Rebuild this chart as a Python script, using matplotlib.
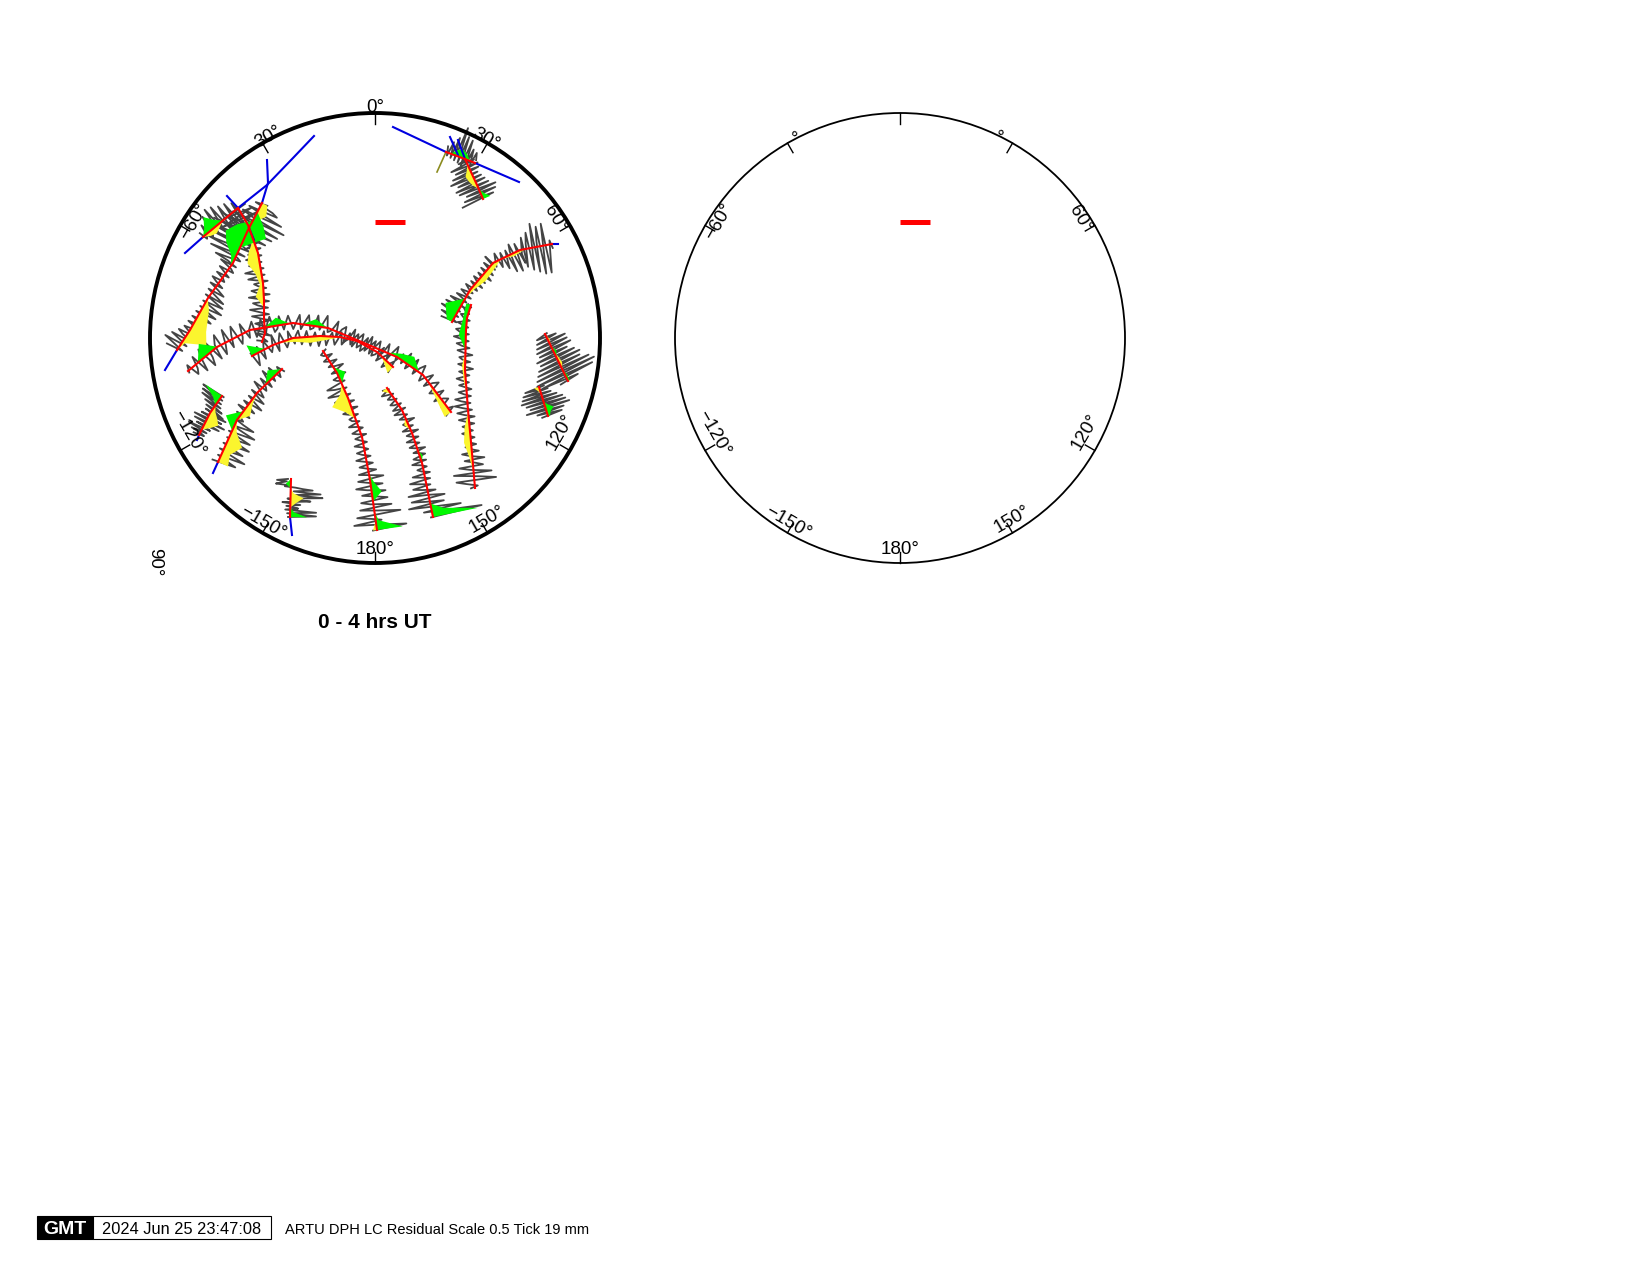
import numpy as np
import matplotlib
matplotlib.use("Agg")
import matplotlib.pyplot as plt
from matplotlib.patches import Circle, Rectangle

plt.rcParams['font.family'] = ['Liberation Sans', 'DejaVu Sans']

# track knots as (east, north) in degrees of zenith distance
track_a = [(30.4, -29.6), (19.2, -14.8), (8.8, -7.6), (-7.2, -0.8), (-18.8, 4), (-32.8, 6), (-50, 3.2), (-63.2, -3.6), (-74.8, -13.2)]
track_b = [(7.2, -11.6), (0.8, -5.6), (-7.2, -1.2), (-14, 0.4), (-22, 0.8), (-32.8, 0), (-40.8, -2.8), (-49.2, -7.2)]
track_c = [(-45.2, -1.6), (-44, 2), (-44.4, 7.2), (-44.4, 15.2), (-44.8, 22), (-46.8, 34), (-50.8, 45.2), (-54.8, 52)]
track_d = [(-45.2, 54), (-50.8, 43.2), (-56.8, 30), (-66.8, 16), (-74, 3.2), (-79.2, -4.8)]
track_e = [(-54.8, 52), (-68.8, 40.4)]
track_f = [(70.8, 37.6), (58, 35.2), (47.2, 30), (38, 19.2), (30.8, 6.4)]
track_g = [(40, -60), (38.8, -46), (37.2, -28.8), (36, -12.8), (36.4, 3.2), (36.8, 8), (38.4, 13.2)]
track_h = [(0.8, -76.8), (-2, -56.8), (-5.2, -39.6), (-10.8, -24), (-15.2, -14), (-20.8, -5.2)]
track_i = [(23.2, -71.6), (18.8, -50), (14.8, -38), (10.8, -28.8), (4.8, -20)]
track_j = [(-37.2, -12.4), (-47.2, -22), (-55.2, -32.8), (-62.8, -49.6)]
track_k = [(-61.2, -23.2), (-66, -30), (-70.4, -38.8)]
track_l = [(-33.6, -56.4), (-34, -71.6)]
track_m = [(68, 1.6), (77.2, -17.2)]
track_n = [(65.6, -19.6), (69.2, -31.2)]
track_o = [(40, 70), (36, 71.6), (28.4, 74.4)]
track_p = [(43.2, 55.6), (40.8, 61.2), (36, 71.6)]

# residuals along each track, evenly spaced
res_a = [6, -5, 3, 5, -6, -2, 7, -7, 2, 6, -8, -3, 6, -8, 1, 7, -9, -4, 5, -10, -2, 5, -11, 3, -6, 4, -10, -3, 6, -9, 2, 7, -8, -1, 8, -9, 4, 9, -8, -2, 8, -9, 3, 7, -8, -4, 5, -10, 1, 4, -12, -5, 3, -11, 2, 4, -10, -3, 5, -9, 1, 6, -8, -2, 5, -9, 3, 6, -10, -4, 7, -9, 2, 8, -8, -1, 7, -10, 3, 9, -12, -4, 8, -13, 2, 11, -12, -3, 12, -13, 5, 13, -10, -2, 12, -8, 4, 9, -5, 2]
res_b = [7, -5, 2, 8, -7, -1, 7, -8, 3, 6, -9, -2, 5, -8, 1, 6, -7, -3, 5, -6, 2, 7, -5, 3, 8, -4, 1, 9, -5, 4, 10, -4, 2, 9, -6, 1, 7, -7, -2, 6, -8, 3, 7, -9, -3, 8, -10, 2, 6, -8, -2, 9, -6, 4, 12, -3]
res_c = [5, -5, 1, 8, -6, 2, 10, -5, 4, 9, -6, 3, 12, -5, 5, 14, -4, 6, 11, -5, 4, 15, -6, 7, 12, -3, 5, 9, -5, 6, 14, -3, 8, 16, -3, 4, 11, -2, 6, 13, -3, 5, 10, -4, 2, 9, -5, 4, 12, -8, 3, 18, -6, -2, 22, -10, 4, 20, -14, 5, 24, -12, 3, 18, -8]
res_d = [6, -6, 14, 20, -10, 5, 28, -14, -4, 34, -22, 6, 30, -30, -8, 26, -36, 4, 22, -40, -12, 16, -38, 3, 10, -34, -10, 8, -28, 2, 6, -20, -6, 5, -12, 2, 6, -9, -2, 5, -8, 1, 4, -9, -3, 6, -7, 4, 12, -5, 6, 16, -4, 8, 18, -3, 9, 20, -3, 7, 17, -4, 8, 15, -5, 4, 10, -6, 2, 8, -7, -2, 6, -10, -4, 8, -14, -3, 6, -18, -6, 5, -12]
res_e = [20, -8, 6, 25, -12, 4, 22, -14, -3, 15, -18, -5, 10, -20, -4, 8, -16, 2, 6, -10, 1, 4, -5]
res_f = [4, -4, 12, 28, -22, 3, 28, -20, -6, 25, -24, 2, 22, -16, -5, 18, -12, 4, 14, -8, 6, 20, -10, -3, 18, -6, 3, 12, -6, 2, 8, -8, -2, 5, -10, 1, 6, -7, 2, 8, -6, 3, 10, -5, 1, 7, -6, -1, 8, -5, 2, 6, -7, -2, 4, -8, -3, 5, -10, -2, 3, -14, -4, 3, -16, -6, 2, -18, -5, 3, -15, -3, 4, -12]
res_g = [4, -3, 8, 18, -22, -4, 20, -18, 3, 14, -10, -2, 8, -12, 2, 10, -7, 1, 6, -5, 2, 5, -4, 3, 8, -3, 2, 7, -5, 3, 10, -6, 4, 11, -4, 5, 13, -3, 6, 12, -4, 3, 8, -5, 1, 7, -3, 4, 9, -4, 2, 6, -8, 1, 7, -5, 3, 6, -7, 2, 8, -4, 4, 9, -3, 5, 12, -3, 6, 10, -2, 4, 9, -3, 3, 7, -1, 4, 6, -1, 3]
res_h = [4, -30, -6, 22, -6, 5, 18, -26, -4, 14, -18, 3, 12, -15, -3, 10, -14, 4, 15, -12, 2, 12, -14, -2, 10, -8, 1, 8, -6, 2, 10, -5, 3, 8, -4, 1, 9, -4, 2, 7, -5, 3, 8, -4, 1, 9, -3, 4, 6, -4, 5, 10, -6, 4, 8, -5, 6, 14, -4, 8, 18, -3, 9, 16, -4, 3, 6, -8, -3, 5, -10, -2, 4, -7, 1, 5, -6, 2, 4, -3]
res_i = [2, -50, -20, 8, -30, -3, 22, -14, 4, 18, -16, -2, 20, -8, 5, 14, -4, 6, 16, -5, 3, 12, -6, 2, 6, -4, 1, 10, -5, 3, 7, -6, -1, 5, -8, 2, 7, -4, 1, 8, -5, 2, 6, -7, 1, 8, -4, 3, 5, -8, 1, 6, -3, 2, 9, -4, 3, 8, -3, 4, 7, -2, 3, 6, -2, 4, 9, -1, 5]
res_j = [3, -5, 1, 5, -10, -2, 4, -12, -3, 6, -8, 2, 5, -10, 1, 8, -6, 3, 12, -5, 4, 14, -6, 2, 10, -8, 3, 9, -5, 1, 6, -3, 8, 20, -2, 10, 24, -3, 9, 22, -2, 12, 24, -3, 8, 20, -4, 10, 25, -3, 7, 18, -6]
res_k = [2, -22, -12, 3, -20, -10, 4, -18, -5, 6, -12, 2, 10, -8, 4, 14, -6, 5, 18, -8, 3, 15, -14, 2, 20, -12, 4, 16, -8, 2, 8, -15, -3, 6, -10, 1, 5, -6]
res_l = [-3, -14, -4, -10, -15, -3, -6, 5, 12, 22, 3, 14, 30, 4, 18, 32, -3, 8, 20, -8, 2, 10, -4, 3, 8, -5, 10, 26, -3, 12, 26, -2]
res_m = [2, -10, 10, -12, 18, -14, 18, -16, 20, -15, 14, -20, 20, -18, 24, -22, 22, -25, 30, -28, 34, -30, 30, -26, 12, -8]
res_n = [5, -15, 8, -18, 10, -20, 15, -22, 20, -18, 22, -15, 25, -20, 18, -10, 15, -6]
res_o = [-3, -10, 3, -12, 4, -20, 8, -22, 6, -30, 5, -18, 4, -12, 3, -6]
res_p = [22, -12, 18, -16, 14, -18, 20, -12, 22, -10, 18, -8, 24, -6, 20, -9, 15, -10, 18, -8, 8, -8]

# smoothed residuals that get filled, evenly spaced along the track
yellow_a = [8, 0, 0, 0, 0, 0, 0, 0, 0]
green_a = [0, 0, 0, 0, 0, -10, -5, 0, 0, 0, 0, 0, 0, -7, 0, 0, -8, 0, 0, 0, 0, 0, -14, 0, 0]
yellow_b = [8, 0, 0, 0, 0, 4, 6, 4, 0, 0, 0]
green_b = [0, 0, 0, 0, 0, 0, 0, 0, 0, 0, -12]
yellow_c = [0, 0, 0, 0, 8, 3, 6, 12, 9, 0, 0, 0, 0]
yellow_d = [6, 10, 3, 0, 0, 0, 0, 0, 0, 0, 0, 0, 7, 11, 15, 22, 3, 0]
green_d1 = [0, 0, 12, 20, 10, 0, 0, 0, 0, 0, 0, 0, 0, 0, 0, 0, 0, 0]
green_d2 = [0, 0, 0, -12, -20, -15, -5, 0, 0, 0, 0, 0, 0, 0, 0, 0, 0, 0]
yellow_e = [0, 0, 0, 0, 3, 6, 4, 0]
green_e = [0, 0, 0, 0, -6, -15, -6, 0]
yellow_f = [0, 0, 0, 3, 0, 5, 6, 3, 0, 0, 0]
green_f = [0, 0, 0, 0, 0, 0, 0, 0, 0, -15, -6]
yellow_g = [0, 0, 3, 7, 5, 0, 0, 2, 3, 0, 0, 0, 0]
green_g = [0, 0, 0, 0, 0, 0, 0, 0, 0, 0, 7, 4, 5]
yellow_h = [4, 0, 0, 0, 0, 0, 0, 0, 0, 0, 0, 0, 0, 7, 18, 6, 0, 0, 0, 0, 0]
green_h = [-26, -3, 0, 0, -10, -4, 0, 0, 0, 0, 0, 0, 0, 0, 0, 0, 0, -8, 0, 0, 0]
yellow_i = [0, 0, 0, 0, 0, 0, 0, 0, 0, 0, 0, 0, 0, 0, 4, 0, 0, 0, 0, 0, 6]
green_i = [-46, -12, 0, 0, 0, 0, 0, 0, 0, -3, 0, 0, 0, 0, 0, 0, 0, 0, 0, 0, 0]
yellow_j = [0, 0, 0, 0, 3, 8, 0, 5, 16, 8, 11]
green_j = [0, -9, 0, 0, 0, 0, -12, 0, 0, 0, 0]
yellow_k = [0, 0, 0, 4, 9, 13, 7, 0, 0]
green_k = [-20, -7, 0, 0, 0, 0, 0, 0, 0]
yellow_l = [0, 0, 0, 3, 13, 6, 0, 0, 0]
green_l = [0, -5, 0, 0, 0, 0, 0, 4, 17]
yellow_m = [0, 2, 0, 0, 2, 3, 0, 0, 0]
green_m = [0, 0, 0, 3, 0, 0, 0, 2, 2]
yellow_n = [-5, -2, 0, 0, 0, 0, 0, 0, 0]
green_n = [0, 0, 0, 0, 0, 3, 8, 4, 2]
green_o = [0, 0, -5, -8, -6, 0, 0]
yellow_p = [0, 0, 0, 4, 6, 7, 3, 0, 0]
green_p = [-8, -3, 0, 0, 0, 0, 0, 0, 0]

# track extensions drawn in blue
blue_1 = [(-84, -12.8), (-79.2, -4.8)]
blue_2 = [(-43.2, 71.2), (-42.8, 62), (-45.2, 54)]
blue_3 = [(-76, 34), (-68.8, 40.4)]
blue_4 = [(-54.8, 52), (-43.2, 61.2), (-32.8, 72), (-24.4, 80.8)]
blue_5 = [(-59.2, 56.8), (-54.8, 52)]
blue_6 = [(-50.4, 44), (-48.4, 39.2)]
blue_7 = [(70.8, 37.6), (73.2, 37.6)]
blue_8 = [(-64.8, -54), (-62.8, -49.6)]
blue_9 = [(-71.2, -40.8), (-70.4, -38.8)]
blue_10 = [(-34, -71.6), (-33.2, -78.8)]
blue_11 = [(7.2, 84.4), (28.4, 74.4)]
blue_12 = [(40, 70), (57.6, 62.4)]
blue_13 = [(33.2, 79.2), (36, 71.6)]
blue_14 = [(30, 80.4), (33.2, 73.2)]
stray_spike = [(24.8, 66.4), (28.4, 74.4)]

tick_az = [0, 30, 60, 120, 150, 180, 210, 240, 300, 330]
label_text = ["60°", "120°", "150°", "180°", "\u2212150°", "\u2212120°", "\u221260°"]
label_e = [72, 74, 45, 0, -45, -74.5, -72.5]
label_n = [47.4, -37.6, -72.5, -84.4, -74, -38, 46.4]
label_rot = [-60, 60, 30, 0, -30, -60, 60]

scale_bar = [(0, 46.4), (12, 46.4)]
RES_SCALE = 0.4

tracks = [track_a, track_b, track_c, track_d, track_e, track_f, track_g, track_h,
          track_i, track_j, track_k, track_l, track_m, track_n, track_o, track_p]
residuals = [res_a, res_b, res_c, res_d, res_e, res_f, res_g, res_h,
             res_i, res_j, res_k, res_l, res_m, res_n, res_o, res_p]
yellow_fills = [(track_a, yellow_a), (track_b, yellow_b), (track_c, yellow_c), (track_d, yellow_d),
                (track_e, yellow_e), (track_f, yellow_f), (track_g, yellow_g), (track_h, yellow_h),
                (track_i, yellow_i), (track_j, yellow_j), (track_k, yellow_k), (track_l, yellow_l),
                (track_m, yellow_m), (track_n, yellow_n), (track_p, yellow_p)]
green_fills = [(track_a, green_a), (track_b, green_b), (track_d, green_d1), (track_d, green_d2),
               (track_e, green_e), (track_f, green_f), (track_g, green_g), (track_h, green_h),
               (track_i, green_i), (track_j, green_j), (track_k, green_k), (track_l, green_l),
               (track_m, green_m), (track_n, green_n), (track_o, green_o), (track_p, green_p)]
blues = [blue_1, blue_2, blue_3, blue_4, blue_5, blue_6, blue_7, blue_8,
         blue_9, blue_10, blue_11, blue_12, blue_13, blue_14]


def offset_track(track, values):
    """Base points of a track and the points moved sideways by values (left of travel)."""
    pts = np.array(track, dtype=float)
    seg = np.diff(pts, axis=0)
    dist = np.concatenate([[0], np.cumsum(np.hypot(seg[:, 0], seg[:, 1]))])
    where = np.linspace(0, dist[-1], len(values))
    x = np.interp(where, dist, pts[:, 0])
    y = np.interp(where, dist, pts[:, 1])
    idx = np.clip(np.searchsorted(dist, where, side='right') - 1, 0, len(seg) - 1)
    tx = seg[idx, 0] / np.hypot(seg[idx, 0], seg[idx, 1])
    ty = seg[idx, 1] / np.hypot(seg[idx, 0], seg[idx, 1])
    v = np.array(values, dtype=float) * RES_SCALE
    return x, y, x - ty * v, y + tx * v


def skyplot(ax, edge_width):
    ax.set_xlim(-90, 90)
    ax.set_ylim(-90, 90)
    ax.set_aspect('equal')
    ax.axis('off')
    ax.add_patch(Circle((0, 0), 90, fill=False, ec='black', lw=edge_width, clip_on=False, zorder=5))
    for az in tick_az:
        s, c = np.sin(np.radians(az)), np.cos(np.radians(az))
        ax.plot([85.6 * s, 90 * s], [85.6 * c, 90 * c], color='black', lw=1.0, clip_on=False, zorder=5)
    for txt, e, n, rot in zip(label_text, label_e, label_n, label_rot):
        ax.text(e, n, txt, fontsize=13.5, rotation=rot, rotation_mode='anchor',
                ha='center', va='center', clip_on=False, zorder=6)
    bar = np.array(scale_bar)
    ax.plot(bar[:, 0], bar[:, 1], color='red', lw=3.6, solid_capstyle='butt', zorder=5)


fig = plt.figure(figsize=(16.5, 12.75), dpi=100)
ax1 = fig.add_axes([150 / 1650, (1275 - 563) / 1275, 450 / 1650, 450 / 1275])
ax2 = fig.add_axes([675 / 1650, (1275 - 563) / 1275, 450 / 1650, 450 / 1275])
skyplot(ax1, 2.8)
skyplot(ax2, 1.3)

# labels only the left plot has
ax1.text(0, 92.4, "0°", fontsize=13.5, ha='center', va='center', zorder=6, clip_on=False)
ax1.text(44.5, 79.6, "30°", fontsize=13.5, rotation=-30, rotation_mode='anchor', ha='center', va='center', zorder=6)
ax1.text(-42.8, 80.4, "30°", fontsize=13.5, rotation=30, rotation_mode='anchor', ha='center', va='center', zorder=6)
ax1.text(-88, -89.6, "90°", fontsize=13.5, rotation=-90, rotation_mode='anchor', ha='center', va='center', clip_on=False)
ax1.text(0, -113.9, "0 - 4 hrs UT", fontsize=15, fontweight='bold', ha='center', va='center', clip_on=False)

# right plot only shows the degree signs of the 30 degree labels
ax2.text(-41, 80, "°", fontsize=13.5, rotation=30, ha='center', va='center')
ax2.text(39, 80, "°", fontsize=13.5, rotation=-30, ha='center', va='center')

for track, vals in zip(tracks, residuals):
    x, y, ox, oy = offset_track(track, vals)
    ax1.plot(ox, oy, color='#444444', lw=1.3, zorder=2, clip_on=False)
for track, vals in yellow_fills:
    x, y, ox, oy = offset_track(track, vals)
    ax1.fill(np.r_[x, ox[::-1]], np.r_[y, oy[::-1]], color='#fbf52e', lw=0, zorder=2.5)
for track, vals in green_fills:
    x, y, ox, oy = offset_track(track, vals)
    ax1.fill(np.r_[x, ox[::-1]], np.r_[y, oy[::-1]], color='#00f800', lw=0, zorder=2.5)

spike = np.array(stray_spike)
ax1.plot(spike[:, 0], spike[:, 1], color='#8c8c20', lw=1.2, zorder=2)
for line in blues:
    pts = np.array(line)
    ax1.plot(pts[:, 0], pts[:, 1], color='#0000e0', lw=1.5, zorder=3)
for track in tracks:
    pts = np.array(track)
    ax1.plot(pts[:, 0], pts[:, 1], color='#ff0000', lw=1.5, zorder=4)

# time stamp along the bottom
page = fig.add_axes([0, 0, 1, 1], zorder=-1)
page.set_xlim(0, 1650)
page.set_ylim(1275, 0)
page.axis('off')
page.add_patch(Rectangle((37, 1216), 56, 23, fc='black', ec='black', lw=0.8))
page.add_patch(Rectangle((93, 1216), 178, 23, fc='white', ec='black', lw=0.8))
page.text(65, 1229, "GMT", color='white', fontsize=14, fontweight='bold', ha='center', va='center')
page.text(182, 1229.5, "2024 Jun 25 23:47:08", fontsize=11.8, ha='center', va='center')
page.text(285, 1230, "ARTU DPH LC Residual Scale 0.5 Tick 19 mm", fontsize=10.5, ha='left', va='center')

fig.savefig("out.png", dpi=100)
